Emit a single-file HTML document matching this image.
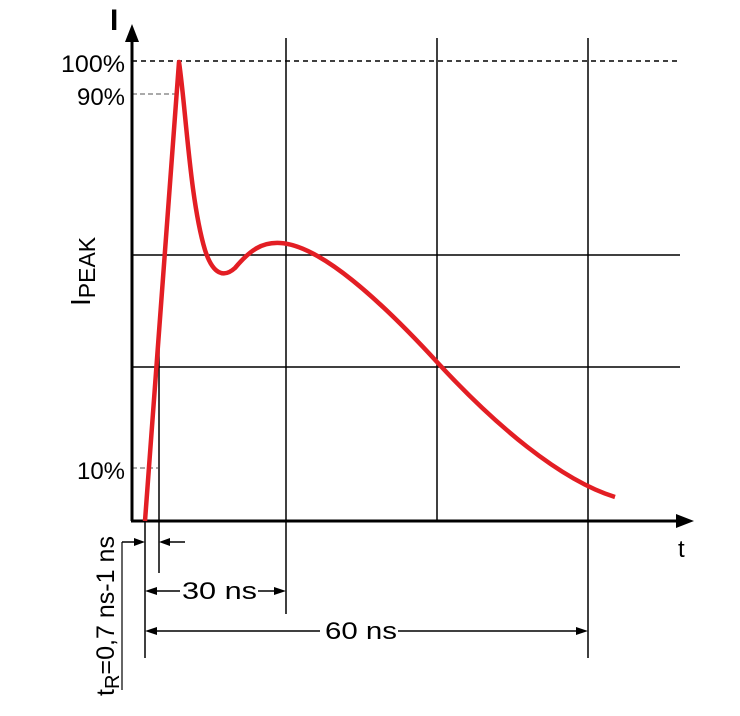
<!DOCTYPE html>
<html><head><meta charset="utf-8"><style>html,body{margin:0;padding:0;background:#fff}svg{display:block}</style></head>
<body>
<svg width="740" height="716" viewBox="0 0 740 716" xmlns="http://www.w3.org/2000/svg" font-family="Liberation Sans, Arial, sans-serif">
<g stroke="#000" fill="none">
  <line x1="132" y1="255" x2="680" y2="255" stroke-width="1.5"/>
  <line x1="132" y1="367" x2="680" y2="367" stroke-width="1.5"/>
  <line x1="286" y1="38" x2="286" y2="614" stroke-width="1.5"/>
  <line x1="437" y1="38" x2="437" y2="521" stroke-width="1.5"/>
  <line x1="588" y1="38" x2="588" y2="658" stroke-width="1.5"/>
  <line x1="132" y1="61" x2="680" y2="61" stroke-width="1.5" stroke-dasharray="5,4"/>
  <line x1="132" y1="94" x2="178" y2="94" stroke-width="1" stroke="#555" stroke-dasharray="5,3"/>
  <line x1="132" y1="468" x2="158" y2="468" stroke-width="1" stroke="#555" stroke-dasharray="5,3"/>
  <line x1="145" y1="521" x2="145" y2="658" stroke-width="1.5"/>
  <line x1="159" y1="330" x2="159" y2="573" stroke-width="1.5"/>
  <line x1="122" y1="542" x2="122" y2="690" stroke-width="1.2"/>
  <line x1="122" y1="542" x2="138" y2="542" stroke-width="1.5"/>
  <line x1="166" y1="542" x2="185" y2="542" stroke-width="1.5"/>
  <line x1="152" y1="591" x2="180" y2="591" stroke-width="1.5"/>
  <line x1="258" y1="591" x2="279" y2="591" stroke-width="1.5"/>
  <line x1="152" y1="631" x2="320" y2="631" stroke-width="1.5"/>
  <line x1="398" y1="631" x2="581" y2="631" stroke-width="1.5"/>
  <line x1="132" y1="40" x2="132" y2="521" stroke-width="3"/>
  <line x1="131" y1="521" x2="680" y2="521" stroke-width="3"/>
</g>
<g fill="#000">
  <polygon points="132,24 125,42 139,42"/>
  <polygon points="694,521 676,514 676,528"/>
  <polygon points="145,542 134,538 134,546"/>
  <polygon points="159,542 170,538 170,546"/>
  <polygon points="145,591 157,587 157,595"/>
  <polygon points="286,591 274,587 274,595"/>
  <polygon points="145,631 157,627 157,635"/>
  <polygon points="588,631 576,627 576,635"/>
</g>
<path d="M145,521 L179,62 C186,110 190,200 205,250 C213,275 224,278 235,268 C250,250 262,242 280,243 C320,245 380,300 437,362 C495,425 560,480 615,497" fill="none" stroke="#e31e24" stroke-width="4.5" stroke-linejoin="round"/>
<g font-size="24" fill="#000">
  <text x="125" y="72" text-anchor="end" textLength="64" lengthAdjust="spacingAndGlyphs">100%</text>
  <text x="125" y="105" text-anchor="end" textLength="48" lengthAdjust="spacingAndGlyphs">90%</text>
  <text x="125" y="479" text-anchor="end" textLength="48" lengthAdjust="spacingAndGlyphs">10%</text>
  <text x="678" y="557">t</text>
  <text x="182" y="599" textLength="75" lengthAdjust="spacingAndGlyphs">30 ns</text>
  <text x="325" y="639" textLength="72" lengthAdjust="spacingAndGlyphs">60 ns</text>
  <text x="110" y="30" font-weight="bold" font-size="30">I</text>
  <text transform="translate(90,306) rotate(-90)" font-size="28">I<tspan font-size="23" dy="5">PEAK</tspan></text>
  <text transform="translate(114,696) rotate(-90)" font-size="25" textLength="160" lengthAdjust="spacingAndGlyphs">t<tspan font-size="20" dy="5">R</tspan><tspan dy="-5">=0,7 ns-1 ns</tspan></text>
</g>
</svg>
</body></html>
